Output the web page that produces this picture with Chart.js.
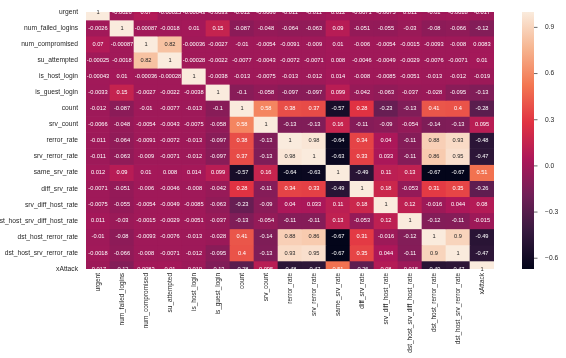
<!DOCTYPE html>
<html>
<head>
<meta charset="utf-8">
<script src="https://cdn.jsdelivr.net/npm/chart.js@4.4.1/dist/chart.umd.min.js"></script>
<style>
  html, body { margin: 0; padding: 0; background: #fff; }
</style>
</head>
<body>
<canvas id="heat" width="566" height="358"></canvas>
<script>
const features = [
  'urgent', 'num_failed_logins', 'num_compromised', 'su_attempted', 'is_host_login',
  'is_guest_login', 'count', 'srv_count', 'rerror_rate', 'srv_rerror_rate',
  'same_srv_rate', 'diff_srv_rate', 'srv_diff_host_rate', 'dst_host_srv_diff_host_rate',
  'dst_host_rerror_rate', 'dst_host_srv_rerror_rate', 'xAttack'
];

// one row per feature
const corr = [
  [1, -0.0026, 0.07, -0.00025, -0.00043, -0.0033, -0.012, -0.0066, -0.011, -0.011, 0.012, -0.0071, -0.0075, 0.011, -0.01, -0.0018, -0.017],
  [-0.0026, 1, -0.00087, -0.0018, 0.01, 0.15, -0.087, -0.048, -0.064, -0.063, 0.09, -0.051, -0.055, -0.03, -0.08, -0.066, -0.12],
  [0.07, -0.00087, 1, 0.82, -0.00036, -0.0027, -0.01, -0.0054, -0.0091, -0.009, 0.01, -0.006, -0.0054, -0.0015, -0.0093, -0.008, 0.0083],
  [-0.00025, -0.0018, 0.82, 1, -0.00028, -0.0022, -0.0077, -0.0043, -0.0072, -0.0071, 0.008, -0.0046, -0.0049, -0.0029, -0.0076, -0.0071, 0.01],
  [-0.00043, 0.01, -0.00036, -0.00028, 1, -0.0038, -0.013, -0.0075, -0.013, -0.012, 0.014, -0.008, -0.0085, -0.0051, -0.013, -0.012, -0.019],
  [-0.0033, 0.15, -0.0027, -0.0022, -0.0038, 1, -0.1, -0.058, -0.097, -0.097, 0.099, -0.042, -0.063, -0.037, -0.028, -0.095, -0.13],
  [-0.012, -0.087, -0.01, -0.0077, -0.013, -0.1, 1, 0.58, 0.38, 0.37, -0.57, 0.28, -0.23, -0.13, 0.41, 0.4, -0.28],
  [-0.0066, -0.048, -0.0054, -0.0043, -0.0075, -0.058, 0.58, 1, -0.13, -0.13, 0.16, -0.11, -0.09, -0.054, -0.14, -0.13, 0.095],
  [-0.011, -0.064, -0.0091, -0.0072, -0.013, -0.097, 0.38, -0.13, 1, 0.98, -0.64, 0.34, 0.04, -0.11, 0.88, 0.93, -0.48],
  [-0.011, -0.063, -0.009, -0.0071, -0.012, -0.097, 0.37, -0.13, 0.98, 1, -0.63, 0.33, 0.033, -0.11, 0.86, 0.95, -0.47],
  [0.012, 0.09, 0.01, 0.008, 0.014, 0.099, -0.57, 0.16, -0.64, -0.63, 1, -0.49, 0.11, 0.13, -0.67, -0.67, 0.51],
  [-0.0071, -0.051, -0.006, -0.0046, -0.008, -0.042, 0.28, -0.11, 0.34, 0.33, -0.49, 1, 0.18, -0.053, 0.31, 0.35, -0.26],
  [-0.0075, -0.055, -0.0054, -0.0049, -0.0085, -0.063, -0.23, -0.09, 0.04, 0.033, 0.11, 0.18, 1, 0.12, -0.016, 0.044, 0.08],
  [0.011, -0.03, -0.0015, -0.0029, -0.0051, -0.037, -0.13, -0.054, -0.11, -0.11, 0.13, -0.053, 0.12, 1, -0.12, -0.11, -0.015],
  [-0.01, -0.08, -0.0093, -0.0076, -0.013, -0.028, 0.41, -0.14, 0.88, 0.86, -0.67, 0.31, -0.016, -0.12, 1, 0.9, -0.49],
  [-0.0018, -0.066, -0.008, -0.0071, -0.012, -0.095, 0.4, -0.13, 0.93, 0.95, -0.67, 0.35, 0.044, -0.11, 0.9, 1, -0.47],
  [-0.017, -0.12, 0.0083, 0.01, -0.019, -0.13, -0.28, 0.095, -0.48, -0.47, 0.51, -0.26, 0.08, -0.015, -0.49, -0.47, 1]
];

const vMin = -0.67, vMax = 1;
const cbTicks = [-0.6, -0.3, 0, 0.3, 0.6, 0.9];

// seaborn "rocket" colormap, sampled
const rocket = [
  [0, [3, 5, 26]],
  [1 / 7, [53, 25, 62]],
  [2 / 7, [112, 31, 87]],
  [3 / 7, [173, 23, 89]],
  [4 / 7, [225, 51, 66]],
  [5 / 7, [243, 118, 81]],
  [6 / 7, [246, 180, 143]],
  [1, [250, 235, 221]]
];

function rgbStr(c) { return 'rgb(' + c.map(Math.round).join(',') + ')'; }

function rocketColor(v) {
  const t = Math.min(1, Math.max(0, (v - vMin) / (vMax - vMin)));
  for (let k = 1; k < rocket.length; k++) {
    const [t1, c1] = rocket[k];
    const [t0, c0] = rocket[k - 1];
    if (t <= t1) {
      const f = (t - t0) / (t1 - t0);
      return c0.map((a, n) => a + (c1[n] - a) * f);
    }
  }
  return rocket[rocket.length - 1][1];
}

// same rule seaborn uses for annotation colour
function textColor(c) {
  const lin = c.map(a => {
    a /= 255;
    return a <= 0.03928 ? a / 12.92 : Math.pow((a + 0.055) / 1.055, 2.4);
  });
  const lum = 0.2126 * lin[0] + 0.7152 * lin[1] + 0.0722 * lin[2];
  return lum > 0.408 ? '#262626' : '#ffffff';
}

const annotate = {
  id: 'annotate',
  afterDatasetsDraw(chart) {
    const { ctx, scales: { x, y } } = chart;
    ctx.save();
    ctx.font = '5.7px "Liberation Sans", Arial, sans-serif';
    ctx.textAlign = 'center';
    ctx.textBaseline = 'middle';
    corr.forEach((row, i) => row.forEach((v, j) => {
      ctx.fillStyle = textColor(rocketColor(v));
      ctx.fillText(String(v), x.getPixelForValue(j), y.getPixelForValue(i));
    }));
    ctx.restore();
  },
  afterDraw(chart) {
    const { ctx } = chart;
    const cb = chart.scales.cb;
    const top = cb.getPixelForValue(vMax);
    const bot = cb.getPixelForValue(vMin);
    const x0 = cb.left + 28, w = 12;
    const grad = ctx.createLinearGradient(0, bot, 0, top);
    rocket.forEach(([t, c]) => grad.addColorStop(t, rgbStr(c)));
    ctx.save();
    ctx.fillStyle = grad;
    ctx.fillRect(x0, top, w, bot - top);
    ctx.strokeStyle = '#444';
    ctx.lineWidth = 0.8;
    ctx.beginPath();
    cbTicks.forEach(v => {
      const py = cb.getPixelForValue(v);
      ctx.moveTo(x0 + w, py);
      ctx.lineTo(x0 + w + 3.5, py);
    });
    ctx.stroke();
    ctx.restore();
  }
};

Chart.defaults.font.family = '"Liberation Sans", Arial, sans-serif';
Chart.defaults.color = '#262626';

function noPad(s) { s.paddingTop = 0; s.paddingBottom = 0; }

new Chart(document.getElementById('heat'), {
  type: 'bar',
  data: {
    labels: features,
    datasets: features.map((name, i) => ({
      label: name,
      data: features.map(() => [i - 0.5, i + 0.5]),
      backgroundColor: corr[i].map(v => rgbStr(rocketColor(v))),
      borderWidth: 0,
      grouped: false,
      barPercentage: 1,
      categoryPercentage: 1
    }))
  },
  options: {
    responsive: false,
    animation: false,
    layout: { padding: { top: 12, left: 0, right: 0, bottom: 0 } },
    plugins: { legend: { display: false }, tooltip: { enabled: false } },
    scales: {
      x: {
        type: 'category',
        grid: { display: false, tickLength: 3 },
        border: { display: false },
        ticks: { font: { size: 6.5 }, minRotation: 90, maxRotation: 90, autoSkip: false, padding: 1 },
        afterFit: s => { s.height = 89; s.paddingLeft = 0; s.paddingRight = 0; }
      },
      y: {
        type: 'linear',
        position: 'left',
        reverse: true,
        min: 0,
        max: features.length - 1,
        grid: { display: false, drawTicks: false },
        border: { display: false },
        ticks: {
          font: { size: 6.7 },
          autoSkip: false,
          padding: 8,
          callback: v => features[v]
        },
        afterBuildTicks: s => { s.ticks = features.map((_, i) => ({ value: i })); },
        afterFit: s => { s.width = 86; noPad(s); }
      },
      cb: {
        type: 'linear',
        position: 'right',
        min: vMin,
        max: vMax,
        grid: { display: false, drawTicks: false },
        border: { display: false },
        ticks: {
          font: { size: 6.7 },
          padding: 51,
          callback: v => (v < 0 ? '\u2212' : '') + Math.abs(v).toFixed(1)
        },
        afterBuildTicks: s => { s.ticks = cbTicks.map(v => ({ value: v })); },
        afterFit: s => { s.width = 72; noPad(s); }
      }
    }
  },
  plugins: [annotate]
});
</script>
</body>
</html>
